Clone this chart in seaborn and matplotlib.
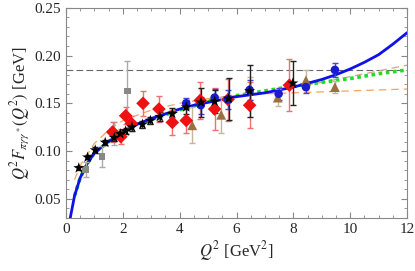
import seaborn as sns
import matplotlib.pyplot as plt
import numpy as np

# curva teorica blu
blue_x = [0.15, 0.3, 0.5, 0.75, 1.0, 1.5, 2.0, 2.5, 3.0, 3.5, 4.0, 4.5, 5.0, 5.5, 6.0,
          6.5, 7.0, 7.5, 8.0, 8.5, 9.0, 9.5, 10.0, 10.5, 11.0, 11.5, 12.0]
blue_y = [0.030, 0.053, 0.072, 0.087, 0.098, 0.110, 0.120, 0.128, 0.134, 0.139, 0.144,
          0.148, 0.151, 0.154, 0.157, 0.159, 0.161, 0.164, 0.167, 0.171, 0.175, 0.180,
          0.186, 0.193, 0.201, 0.212, 0.224]

green_x = [0.3, 0.5, 0.75, 1.0, 1.5, 2.0, 2.5, 3.0, 4.0, 5.0, 6.0, 7.0, 8.0, 9.0, 10.0, 11.0, 12.0]
green_y = [0.053, 0.072, 0.087, 0.098, 0.110, 0.120, 0.128, 0.133, 0.143, 0.152, 0.158,
           0.163, 0.168, 0.172, 0.176, 0.181, 0.185]

orange_x = [0.3, 0.5, 1.0, 1.5, 2.0, 3.0, 4.0, 5.0, 6.0, 7.0, 8.0, 9.0, 10.0, 11.0, 12.0]
orange_y = [0.070, 0.085, 0.108, 0.122, 0.132, 0.143, 0.150, 0.155, 0.158, 0.160, 0.161,
            0.162, 0.163, 0.164, 0.165]

tan_x = [8.0, 9.0, 10.0, 11.0, 12.0]
tan_y = [0.167, 0.172, 0.178, 0.184, 0.190]

asym = 0.185  # limite asintotico

# dati sperimentali
star_x = [0.45, 0.76, 1.03, 1.38, 1.70, 1.91, 2.10, 2.32, 2.69, 2.97, 3.30, 3.74, 4.23,
          4.75, 5.23, 5.72, 6.46, 7.98]
star_y = [0.0823, 0.0935, 0.101, 0.109, 0.114, 0.118, 0.121, 0.125, 0.128, 0.132, 0.136,
          0.139, 0.146, 0.151, 0.152, 0.155, 0.163, 0.171]
star_e = [0.002, 0.002, 0.003, 0.003, 0.003, 0.003, 0.003, 0.004, 0.004, 0.004, 0.005,
          0.006, 0.007, 0.015, 0.012, 0.022, 0.027, 0.023]

sq_x = [0.70, 1.27, 1.70, 2.16]
sq_y = [0.081, 0.094, 0.118, 0.163]
sq_e = [0.008, 0.011, 0.012, 0.031]

red_x = [1.64, 1.93, 2.10, 2.30, 2.71, 3.27, 3.74, 4.23, 4.72, 5.23, 5.70, 6.46, 7.86]
red_y = [0.120, 0.115, 0.137, 0.129, 0.150, 0.144, 0.130, 0.132, 0.153, 0.144, 0.154,
         0.148, 0.169]
red_e = [0.010, 0.008, 0.009, 0.008, 0.013, 0.014, 0.013, 0.013, 0.019, 0.022, 0.022,
         0.024, 0.027]

circ_x = [4.23, 4.74, 5.23, 5.70, 6.46, 7.48, 8.44, 9.46]
circ_y = [0.150, 0.148, 0.156, 0.154, 0.164, 0.160, 0.167, 0.185]
circ_e = [0.006, 0.009, 0.009, 0.010, 0.010, 0.006, 0.006, 0.0075]

tri_x = [4.44, 5.46, 6.46, 7.45, 8.44, 9.46]
tri_y = [0.127, 0.138, 0.166, 0.156, 0.174, 0.167]
tri_e = [0.019, 0.019, 0.012, 0.009, 0.0105, 0.006]

sns.set_style("ticks")
plt.rcParams['font.family'] = ['Liberation Serif', 'DejaVu Serif']
plt.rcParams['mathtext.fontset'] = 'stix'

fig = plt.figure(figsize=(4.15, 2.71), dpi=100)
ax = fig.add_axes([0.159, 0.196, 0.822, 0.775])

ax.axhline(asym, color='#666666', ls=(0, (6, 3)), lw=0.8, zorder=1)

sns.lineplot(x=orange_x, y=orange_y, ax=ax, color='#f4a460', lw=0.9, ls=(0, (6, 4)), zorder=2)
sns.lineplot(x=tan_x, y=tan_y, ax=ax, color='#c8aa90', lw=0.9, ls=(0, (6, 4)), zorder=2)
sns.lineplot(x=green_x, y=green_y, ax=ax, color='#22dd22', lw=2.6, ls=(0, (1, 1)), zorder=3)
sns.lineplot(x=blue_x, y=blue_y, ax=ax, color='#1010e8', lw=2.0, zorder=4)

# barre d'errore + marcatori
def punti(x, y, e, mk, col, ecol, ms):
	ax.errorbar(x, y, yerr=e, fmt='none', ecolor=ecol, elinewidth=1.0, capsize=2.5, zorder=5)
	sns.scatterplot(x=x, y=y, ax=ax, marker=mk, color=col, s=ms, edgecolor='none', zorder=6)

punti(sq_x, sq_y, sq_e, 's', '#888888', '#aaaaaa', 24)
punti(tri_x, tri_y, tri_e, '^', '#9a7040', '#c8b49c', 50)
punti(red_x, red_y, red_e, 'D', '#ee1111', '#f07070', 48)
punti(circ_x, circ_y, circ_e, 'o', '#1a1ad0', '#4444dd', 38)
punti(star_x, star_y, star_e, '*', '#000000', '#222222', 70)

ax.set_xlim(0, 12)
ax.set_ylim(0.03, 0.25)
ax.set_xticks([0, 2, 4, 6, 8, 10, 12])
ax.set_yticks([0.05, 0.10, 0.15, 0.20, 0.25])
ax.set_yticklabels(['0.05', '0.10', '0.15', '0.20', '0.25'])
ax.set_xticks(np.arange(0, 12.01, 0.5), minor=True)
ax.set_yticks(np.arange(0.03, 0.2501, 0.01), minor=True)
ax.tick_params(which='both', direction='in', top=True, right=True, color='#888888', labelsize=11)
ax.tick_params(which='major', length=4, width=0.8)
ax.tick_params(which='minor', length=2, width=0.6)
for s in ax.spines.values():
	s.set_color('#888888')
	s.set_linewidth(0.8)

ax.set_xlabel(r'$Q^2$ [GeV$^2$]', fontsize=12, labelpad=2)
ax.set_ylabel(r'$Q^2 F_{\pi\gamma\gamma^*}(Q^2)$ [GeV]', fontsize=12, labelpad=2)

fig.savefig('out.png', dpi=100)
